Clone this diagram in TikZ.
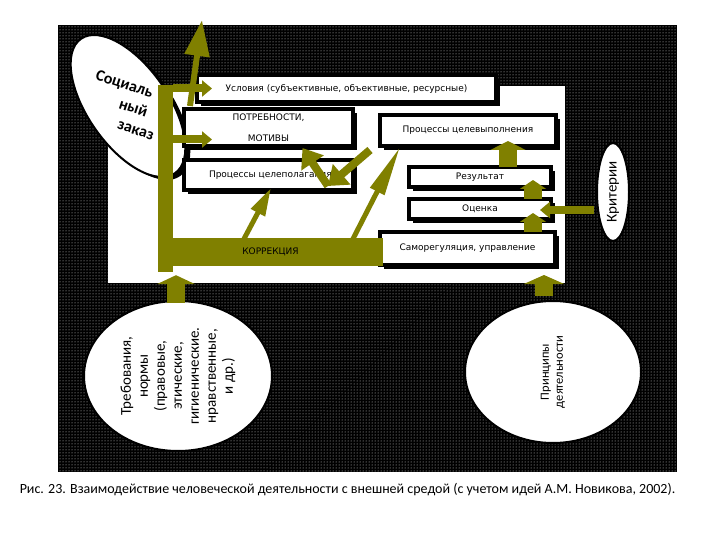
\documentclass[tikz,border=0pt]{standalone}
\usepackage{fontspec}
\setmainfont{DejaVu Sans}
\newfontfamily\calib{Carlito}
\usetikzlibrary{positioning, arrows.meta, shapes.geometric, patterns, shadows, calc}
\definecolor{olivebar}{RGB}{128,128,0}

\begin{document}
\begin{tikzpicture}[x=1pt, y=-1pt,
  box/.style={draw=black, fill=white, line width=4pt, outer sep=0pt, inner sep=0pt,
              font=\fontsize{9}{10}\selectfont,
              drop shadow={shadow xshift=4pt, shadow yshift=-4pt, fill=black, opacity=1}},
  oval/.style={ellipse, fill=white, draw=black, line width=2pt, inner sep=0pt, outer sep=0pt,
               align=center, rotate=90},
  flow/.style={draw=olivebar, line width=8pt, -{Triangle[length=10pt, width=16pt]}},
  jut/.style={draw=olivebar, line width=18pt, -{Triangle[length=9pt, width=#1]}},
  spike/.style={draw=olivebar, line width=5pt, -{Triangle[length=#1, width=15pt]}},
]
\useasboundingbox (0,0) rectangle (720,540);

% Surroundings
\fill[black] (58,25) rectangle (677,472);
\fill[pattern=dots, pattern color=white!85!black] (58,25) rectangle (677,472);
\fill[white] (108,86) rectangle (565,283);

% Social order
\node[ellipse, fill=white, draw=black, line width=2pt, minimum width=164, minimum height=80,
      rotate=-55, drop shadow={shadow xshift=5pt, shadow yshift=-3pt, fill=black, opacity=1}]
      (soc) at (128,106) {};
\node[font=\calib\bfseries\fontsize{16}{20}\selectfont, align=left, rotate=-18]
      (soctext) at (125,105) {Социаль\\\hspace*{31pt}ный\\\hspace*{36pt}заказ};

% Boxes
\node[box, minimum width=299, minimum height=27] (cond) at (346.5,88.5)
  {Условия (субъективные, объективные, ресурсные)};
\node[box, minimum width=169, minimum height=37, align=center,
      font=\fontsize{9}{21}\selectfont] (need) at (268.5,127.5) {ПОТРЕБНОСТИ,\\МОТИВЫ};
\node[box, minimum width=169, minimum height=30, text width=169, align=left] (goal) at (268.5,175)
  {\hspace*{25pt}Процессы целеполагания};
\node[box, minimum width=176, minimum height=31] (exec) at (468,130.5) {Процессы целевыполнения};
\node[box, minimum width=142, minimum height=20] (res) at (480,177) {Результат};
\node[box, minimum width=142, minimum height=20, below=12pt of res] (eval) {Оценка};
\node[box, minimum width=175, minimum height=33] (self) at (467.5,248.5) {Саморегуляция, управление};

% Ovals
\node[oval, minimum width=98, minimum height=32, font=\calib\fontsize{15}{16}\selectfont]
      (crit) at (613,192) {Критерии};
\node[oval, minimum width=150, minimum height=188, font=\calib\fontsize{15}{17}\selectfont]
      (req) at (178,376) {Требования,\\нормы\\(правовые,\\этические,\\гигиенические.\\нравственные,\\и др.)};
\node[oval, minimum width=142, minimum height=176, font=\calib\fontsize{12.5}{14}\selectfont]
      (prin) at (553,372) {Принципы\\деятельности};

% Correction
\node[fill=olivebar, minimum width=15, minimum height=187, inner sep=0pt] (spine) at (165.5,178.5) {};
\node[fill=olivebar, minimum width=225, minimum height=28, inner sep=0pt,
      font=\fontsize{9}{10}\selectfont] (corr) at (270.5,252) {КОРРЕКЦИЯ};

% Arrows
\draw[flow] (spine.east |- cond.west) -- ($(cond.west)+(15,0)$);
\draw[flow] ($(spine.east |- need.west)+(0,12)$) -- ($(need.west)+(28,12)$);
\coordinate (exit) at (202,20);
\draw[draw=olivebar, line width=6pt, -{Triangle[length=36pt, width=24pt]}]
  ($(need.north west)+(6,-3)$) -- (exit);
\draw[spike=28pt] ($(corr.north)+(-27,2)$) -- ($(goal.south)+(2.5,-2)$);
\draw[spike=50pt] ($(corr.north)+(82,2)$) -- ($(exec.south west)+(20,1)$);
\coordinate (kink) at (328,186);
\draw[draw=olivebar, line width=8pt, -{Triangle[length=18pt, width=26pt]}]
  ($(exec.south west)+(-10,4)$) -- (kink);
\draw[draw=olivebar, line width=8pt, -{Triangle[length=18pt, width=26pt]}]
  (kink) -- ($(need.south)+(34,2)$);
\draw[jut=35pt] ($(res.north)+(28,0)$) -- ($(exec.south)+(40,-5)$);
\draw[jut=26pt] ($(eval.north)+(53,0)$) -- ($(res.south)+(53,-7)$);
\draw[jut=26pt] ($(self.north)+(65.5,0)$) -- ($(eval.south)+(53,-6)$);
\draw[flow] ($(crit.center)+(-19,18)$) -- ($(eval.east)+(-11,1)$);
\draw[jut=38pt] ($(req.center)+(-2,-73)$) -- ($(corr.south)+(-94.5,9)$);
\draw[jut=40pt] ($(prin.center)+(-9,-76)$) -- ($(self.south)+(76.5,10)$);

% Caption
\node[font=\calib\fontsize{14}{16}\selectfont] (caption) at (347.5,490)
  {Рис. 23. Взаимодействие человеческой деятельности с внешней средой (с учетом идей А.М. Новикова, 2002).};
\end{tikzpicture}
\end{document}
